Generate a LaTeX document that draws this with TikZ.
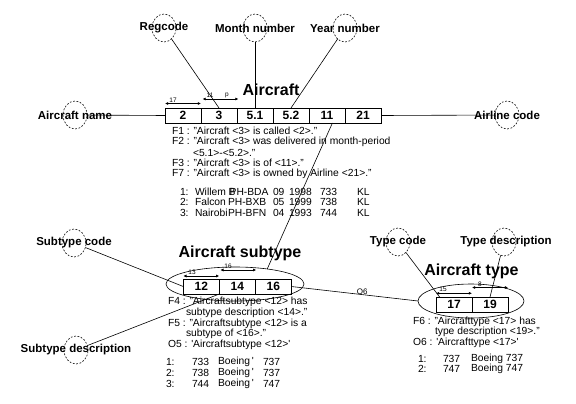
\documentclass[tikz,border=0pt]{standalone}
\usepackage{fontspec}
\setmainfont{Liberation Sans}
\usetikzlibrary{arrows.meta,shapes.geometric,calc}
\begin{document}
\begin{tikzpicture}[x=1pt,y=-1pt,
  every node/.style={inner sep=0pt, outer sep=0pt},
  lab/.style={font=\fontsize{11.5}{12}\selectfont\bfseries},
  dcirc/.style={draw, dash pattern=on 1.8pt off 1.6pt, ellipse, minimum width=24pt, minimum height=28pt, line width=0.6pt},
  cell/.style={draw, rectangle, minimum width=36pt, minimum height=15pt, font=\fontsize{12}{12}\selectfont\bfseries, line width=0.8pt},
  ttl/.style={font=\fontsize{16}{16}\selectfont\bfseries},
  fact/.style={font=\fontsize{10.3}{11}\selectfont, anchor=west},
  tiny/.style={font=\fontsize{6.5}{6.5}\selectfont},
  ra/.style={{Latex[length=3.2pt,width=3pt]}-{Latex[length=3.2pt,width=3pt]}, line width=0.8pt},
  conn/.style={line width=0.6pt},
  ell/.style={draw, ellipse, line width=0.6pt}
]
\fill[white] (0,0) rectangle (576,404);
\useasboundingbox (0,0) rectangle (576,404);

% ---------- Aircraft ----------
\node[cell] (c2)  at (183,115.5) {2};
\node[cell] (c3)  at (219,115.5) {3};
\node[cell] (c51) at (255,115.5) {5.1};
\node[cell] (c52) at (291,115.5) {5.2};
\node[cell] (c11) at (327,115.5) {11};
\node[cell] (c21) at (363,115.5) {21};
\node[ttl] (tac) at (271,90) {Aircraft};

\draw[ra] ([yshift=4.5pt]c2.north west) -- ([yshift=4.5pt]c2.north east);
\node[tiny] (l17) at (173,100) {17};
\draw[ra] ([yshift=9pt,xshift=1.5pt]c3.north west) -- ([yshift=9pt,xshift=1.5pt]c3.north east);
\node[tiny] (l11) at (210,95.5) {11};
\node[tiny] (lp) at (227,95.5) {p};

% role labels
\node[dcirc] (rcc) at (164,28) {};  \node[lab] (rct) at (164,28) {Regcode};
\node[dcirc] (mnc) at (255,28) {};  \node[lab] (mnt) at (255,28) {Month number};
\node[dcirc] (ync) at (345,28) {};  \node[lab] (ynt) at (345,28) {Year number};
\node[dcirc] (anc) at (75,115) {};  \node[lab] (ant) at (75,115) {Aircraft name};
\node[dcirc] (alc) at (507,115) {}; \node[lab] (alt) at (507,115) {Airline code};

\draw[conn] (rcc) -- (c3.north);
\draw[conn] (mnc) -- (c51.north);
\draw[conn] (ync) -- (c52.north);
\draw[conn] (anc) -- (c2.west);
\draw[conn] (c21.east) -- (alc);

% facts Aircraft
\node[fact] (f1)  at (172,131)    {F1 : "Aircraft <3> is called <2>."};
\node[fact] (f2)  at (172,141.75) {F2 : "Aircraft <3> was delivered in month-period};
\node[fact] (f2b) at (193,152.5)  {<5.1>-<5.2>."};
\node[fact] (f3)  at (172,163.25) {F3 : "Aircraft <3> is of <11>."};
\node[fact] (f7)  at (172,174)    {F7 : "Aircraft <3> is owned by Airline <21>."};

\node[fact] (a1n) at (180,191.5) {1:};
\node[fact] (a2n) at (180,202)   {2:};
\node[fact] (a3n) at (180,212.5) {3:};
\node[fact] (a1a) at (195,191.5) {Willem B\kern-6ptPH-BDA};
\node[fact] (a2a) at (195,202)   {Falcon};
\node[fact] (a3a) at (195,212.5) {Nairobi};
\node[fact] (a2b) at (228,202)   {PH-BXB};
\node[fact] (a3b) at (228,212.5) {PH-BFN};
\node[fact] (a1c) at (273,191.5) {09};
\node[fact] (a2c) at (273,202)   {05};
\node[fact] (a3c) at (273,212.5) {04};
\node[fact] (a1d) at (289,191.5) {1998};
\node[fact] (a2d) at (289,202)   {1999};
\node[fact] (a3d) at (289,212.5) {1993};
\node[fact] (a1e) at (320,191.5) {733};
\node[fact] (a2e) at (320,202)   {738};
\node[fact] (a3e) at (320,212.5) {744};
\node[fact] (a1f) at (357,191.5) {KL};
\node[fact] (a2f) at (357,202)   {KL};
\node[fact] (a3f) at (357,212.5) {KL};

% ---------- Aircraft subtype ----------
\node[ell, minimum width=138pt, minimum height=34pt] (subell) at (235,284) {};
\node[cell] (c12) at (201.3,286.5) {12};
\node[cell] (c14) at (237.3,286.5) {14};
\node[cell] (c16) at (273.3,286.5) {16};
\node[ttl] (tsub) at (240,253) {Aircraft subtype};

\draw[ra] ([yshift=3pt]c12.north west) -- ([yshift=3pt]c12.north east);
\node[tiny] (l13) at (192,272) {13};
\draw[ra] ([yshift=9pt,xshift=1pt]c14.north west) -- ([yshift=9pt,xshift=1pt]c14.north east);
\node[tiny] (l16) at (228,266.5) {16};

\node[dcirc] (scc) at (74,243) {};  \node[lab] (sct) at (74,243) {Subtype code};
\node[dcirc] (sdc) at (76,350) {};  \node[lab] (sdt) at (76,350) {Subtype description};

\draw[conn] (scc) -- (c12.west);
\draw[conn] (sdc) -- (c14.south west);
\draw[conn] ($(c11.south west)!0.65!(c11.south east)$) -- (subell.25);

\node[fact] (f4)  at (168,302)    {F4 : "Aircraftsubtype <12> has};
\node[fact] (f4b) at (186,312.75) {subtype description <14>."};
\node[fact] (f5)  at (168,323.5)  {F5 : "Aircraftsubtype <12> is a};
\node[fact] (f5b) at (186,334.25) {subtype of <16>."};
\node[fact] (o5)  at (168,345)    {O5 : \textquotesingle Aircraftsubtype <12>\textquotesingle};

\node[fact] (s1n) at (166,361.5) {1:};
\node[fact] (s2n) at (166,372.5) {2:};
\node[fact] (s3n) at (166,383.5) {3:};
\node[fact] (s1a) at (192,361.5) {733};
\node[fact] (s2a) at (192,372.5) {738};
\node[fact] (s3a) at (192,383.5) {744};
\node[fact] (s1b) at (218,361.5) {Boeing\,\textquotesingle};
\node[fact] (s2b) at (218,372.5) {Boeing\,\textquotesingle};
\node[fact] (s3b) at (218,383.5) {Boeing\,\textquotesingle};
\node[fact] (s1c) at (263,361.5) {737};
\node[fact] (s2c) at (263,372.5) {737};
\node[fact] (s3c) at (263,383.5) {747};

% ---------- Aircraft type ----------
\node[ell, minimum width=106pt, minimum height=34pt] (typell) at (471,301) {};
\node[cell] (c17) at (454,304.5) {17};
\node[cell] (c19) at (490,304.5) {19};
\node[ttl] (ttyp) at (471.5,271) {Aircraft type};

\draw[ra] ([yshift=3.7pt]c17.north west) -- ([yshift=3.7pt]c17.north east);
\node[tiny] (l15) at (443,289.5) {15};
\draw[ra] ([yshift=9.5pt]c19.north west) -- ([yshift=9.5pt]c19.north east);
\node[tiny] (l8) at (480,284) {8};

\node[dcirc] (tcc) at (398,242) {};  \node[lab] (tct) at (398,242) {Type code};
\node[dcirc] (tdc) at (504,242) {};  \node[lab] (tdt) at (506,242) {Type description};

\draw[conn] (tcc) -- ($(c17.north west)!0.1!(c17.north east)$);
\draw[conn] (tdc) -- (c19.north);
\draw[conn] (c16.east) -- node[pos=0.56, above=0.3pt, font=\fontsize{8}{8}\selectfont] (o6l) {O6} (typell.west);

\node[fact] (f6)  at (413,321.5) {F6 : "Aircrafttype <17> has};
\node[fact] (f6b) at (435,332)   {type description <19>."};
\node[fact] (o6)  at (413,342.5) {O6 : \textquotesingle Aircrafttype <17>\textquotesingle};

\node[fact] (t1n) at (418,358.5) {1:};
\node[fact] (t2n) at (418,369)   {2:};
\node[fact] (t1a) at (443,358.5) {737};
\node[fact] (t2a) at (443,369)   {747};
\node[fact] (t1b) at (471,358.5) {Boeing 737};
\node[fact] (t2b) at (471,369)   {Boeing 747};
\end{tikzpicture}
\end{document}
